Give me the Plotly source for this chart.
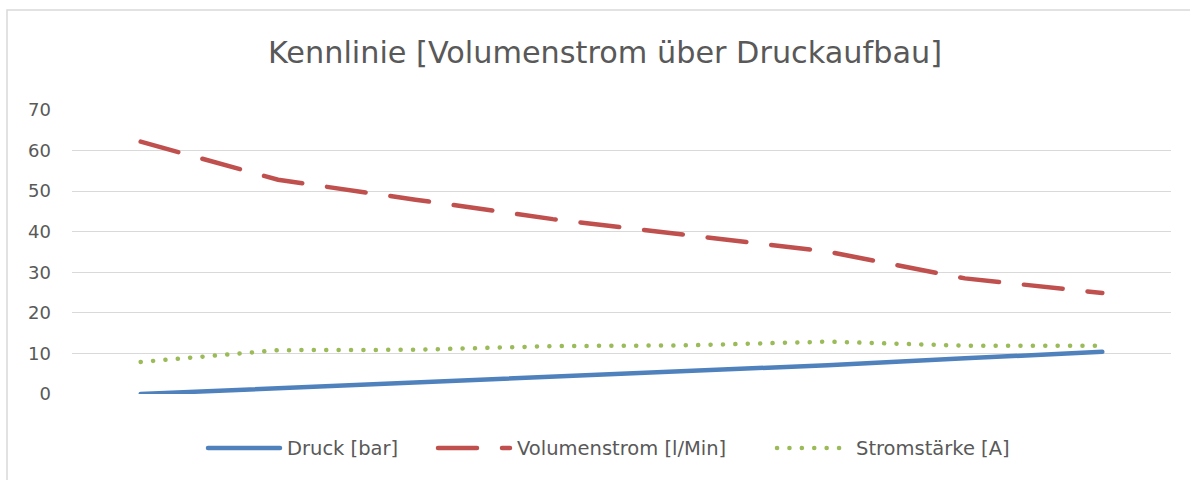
import plotly.graph_objects as go

categories = ["1", "2", "3", "4", "5", "6", "7", "8"]
druck = [0, 1.4, 2.9, 4.3, 5.7, 7.1, 8.8, 10.4]
volumenstrom = [62.2, 52.8, 47.9, 43.1, 39.1, 35.1, 28.5, 24.9]
stromstaerke = [7.9, 10.8, 10.9, 11.8, 12.0, 12.9, 11.9, 11.9]
series_names = ["Druck [bar]", "Volumenstrom [l/Min]", "Stromstärke [A]"]
y_ticks = [0, 10, 20, 30, 40, 50, 60, 70]

FONT = "DejaVu Sans"
GREY = "#595959"
COLORS = ["#4F81BD", "#C0504D", "#9BBB59"]
DASHES = ["solid", "39px,25px", "0.1px,12.3px"]
LW = 4.5

W, H = 1190, 480
L, R, T, B = 72, 19, 110, 86
pw = W - L - R
ph = H - T - B


def px_x(p):
    return (p - L) / pw


def px_y(p):
    return (H - B - p) / ph


fig = go.Figure()
for name, vals, col, dash in zip(series_names, [druck, volumenstrom, stromstaerke], COLORS, DASHES):
    fig.add_trace(go.Scatter(x=categories, y=vals, mode="lines", name=name, showlegend=False,
                             line=dict(color=col, width=LW, dash=dash)))

# custom legend (long samples like the original)
legend_x = [208, 438, 777]
legend_y = 448
shapes = [dict(type="rect", xref="paper", yref="paper",
               x0=px_x(7), x1=px_x(1200), y0=px_y(10), y1=px_y(500),
               line=dict(color="#D9D9D9", width=1.5), fillcolor="rgba(0,0,0,0)", layer="below")]
annotations = []
for name, col, dash, lx in zip(series_names, COLORS, DASHES, legend_x):
    shapes.append(dict(type="line", xref="paper", yref="paper",
                       x0=px_x(lx), x1=px_x(lx + 72), y0=px_y(legend_y), y1=px_y(legend_y),
                       line=dict(color=col, width=LW, dash=dash)))
    annotations.append(dict(text=name, xref="paper", yref="paper", x=px_x(lx + 77), y=px_y(legend_y),
                            xanchor="left", yanchor="middle", showarrow=False,
                            font=dict(family=FONT, size=19.5, color=GREY)))

fig.update_layout(
    width=W, height=H,
    margin=dict(l=L, r=R, t=T, b=B),
    paper_bgcolor="white", plot_bgcolor="white",
    font=dict(family=FONT, color=GREY, size=18),
    title=dict(text="Kennlinie [Volumenstrom über Druckaufbau]", x=605 / W,
               xanchor="center", y=1 - 52 / H, yanchor="middle",
               font=dict(family=FONT, size=30.3, color=GREY)),
    xaxis=dict(type="category", range=[-0.5, 7.5], showticklabels=False, showgrid=False,
               zeroline=False, showline=False, ticks=""),
    yaxis=dict(range=[0, 70], tickvals=y_ticks, showgrid=True, gridcolor="#D9D9D9", gridwidth=1.3,
               zeroline=False, showline=False, ticks="", ticklabelstandoff=20,
               tickfont=dict(family=FONT, size=18, color=GREY)),
    showlegend=False,
    shapes=shapes,
    annotations=annotations,
)

post = """
document.body.style.margin='0';
var s=document.createElement('style');
s.innerHTML='.scatterlayer path.js-line, .shapelayer path {stroke-linecap: round;}';
document.head.appendChild(s);
"""
fig.write_html("out.html", post_script=post, config={"displayModeBar": False})
